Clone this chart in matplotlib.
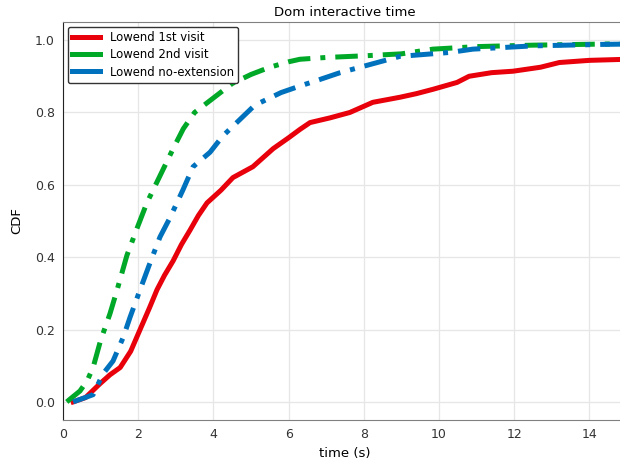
import matplotlib
matplotlib.use("Agg")
import matplotlib.pyplot as plt
from matplotlib.lines import Line2D

# ---------- Data ----------
first_x = [0.27, 0.6, 0.98, 1.25, 1.52, 1.8, 2.05, 2.3, 2.5, 2.7, 2.93, 3.15, 3.38,
           3.6, 3.83, 4.2, 4.52, 5.05, 5.59, 6.0, 6.3, 6.57, 7.1, 7.63, 8.24, 8.96,
           9.4, 9.84, 10.48, 10.8, 11.4, 11.97, 12.7, 13.2, 14.0, 15.0]
first_y = [0.0, 0.012, 0.05, 0.075, 0.095, 0.14, 0.2, 0.26, 0.31, 0.35, 0.39, 0.435,
           0.475, 0.515, 0.55, 0.585, 0.62, 0.65, 0.70, 0.73, 0.753, 0.772, 0.785,
           0.80, 0.828, 0.842, 0.852, 0.864, 0.883, 0.9, 0.91, 0.914, 0.925, 0.938,
           0.944, 0.947]

second_x = [0.1, 0.19, 0.45, 0.64, 0.8, 1.0, 1.25, 1.44, 1.7, 1.97, 2.23, 2.58, 2.93,
            3.2, 3.5, 4.0, 4.5, 5.0, 5.5, 6.0, 6.3, 7.0, 8.1, 9.0, 9.84, 11.0, 12.5,
            15.0]
second_y = [0.0, 0.008, 0.03, 0.058, 0.095, 0.17, 0.244, 0.31, 0.405, 0.48, 0.55,
            0.625, 0.70, 0.755, 0.80, 0.84, 0.88, 0.905, 0.925, 0.94, 0.947, 0.952,
            0.957, 0.962, 0.975, 0.982, 0.986, 0.99]

noext_x = [0.27, 0.8, 1.06, 1.33, 1.6, 1.78, 2.05, 2.31, 2.58, 2.85, 3.19, 3.46,
           3.91, 4.25, 4.6, 5.1, 5.8, 6.3, 6.8, 7.37, 8.43, 8.96, 10.3, 10.9, 12.5,
           14.3, 15.0]
noext_y = [0.0, 0.02, 0.077, 0.113, 0.178, 0.233, 0.31, 0.383, 0.456, 0.51, 0.586,
           0.65, 0.69, 0.735, 0.77, 0.82, 0.855, 0.873, 0.89, 0.91, 0.94, 0.955,
           0.966, 0.975, 0.984, 0.988, 0.989]

labels = ["Lowend 1st visit", "Lowend 2nd visit", "Lowend no-extension"]
colors = ["#e8000b", "#00a828", "#0072bd"]

# ---------- Plotting ----------
fig = plt.figure(figsize=(6.2, 4.63), dpi=100)
ax = fig.add_axes([63 / 620, 43 / 463, 564 / 620, 398 / 463])

ax.plot(first_x, first_y, color=colors[0], lw=3.6, linestyle="-")
ax.plot(second_x, second_y, color=colors[1], lw=3.6, linestyle=(0, (4.5, 2, 1, 2)))
ax.plot(noext_x, noext_y, color=colors[2], lw=3.6, linestyle=(0, (4.5, 2, 1, 2)))

ax.set_xlim(0, 15)
ax.set_ylim(-0.05, 1.05)
ax.set_xticks(range(0, 16, 2))
ax.set_yticks([0.0, 0.2, 0.4, 0.6, 0.8, 1.0])
ax.grid(True, color="#e6e6e6", lw=0.9)
ax.set_axisbelow(True)

for side in ["top", "bottom", "right"]:
    ax.spines[side].set_color("#808080")
ax.spines["left"].set_color("#222222")
ax.tick_params(labelsize=9, colors="#333333", length=0, pad=6)

ax.set_title("Dom interactive time", fontsize=9.5, pad=4)
ax.set_xlabel("time (s)", fontsize=9.5, labelpad=4)
ax.set_ylabel("CDF", fontsize=9.5, labelpad=8)

handles = [Line2D([], [], color=c, lw=3.6) for c in colors]
ax.legend(handles, labels, loc="upper left", fontsize=8.4, handlelength=2.4,
          borderaxespad=0.4, edgecolor="#333333", fancybox=True, framealpha=1,
          labelspacing=0.35)

fig.savefig("out.png", dpi=100)
